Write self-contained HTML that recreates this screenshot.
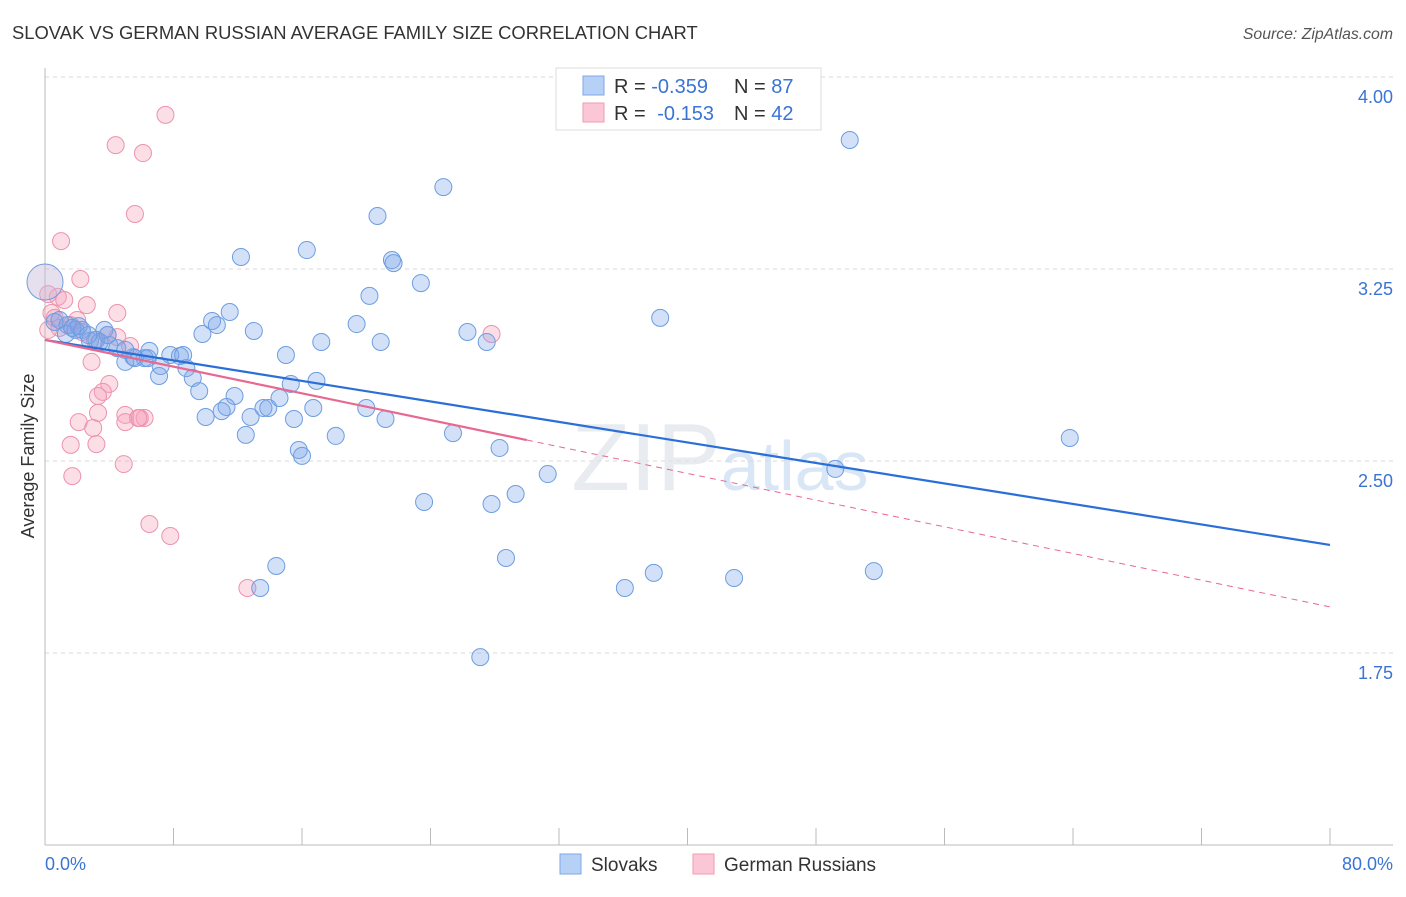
<!DOCTYPE html>
<html><head><meta charset="utf-8"><style>
body{margin:0;background:#fff;font-family:"Liberation Sans",sans-serif;}
svg text{font-family:"Liberation Sans",sans-serif;}
</style></head><body>
<svg id="chart" width="1406" height="892" viewBox="0 0 1406 892" xmlns="http://www.w3.org/2000/svg">
<text x="12" y="39" font-size="18.4" fill="#333">SLOVAK VS GERMAN RUSSIAN AVERAGE FAMILY SIZE CORRELATION CHART</text>
<text x="1393" y="39" font-size="15.8" fill="#555" font-style="italic" text-anchor="end">Source: ZipAtlas.com</text>
<g id="grid"></g>
<g id="axes"></g>
<text x="720" y="490" font-size="96" fill="#dfe3ea" text-anchor="middle" font-family="Liberation Serif, serif" opacity="0.7">ZIP<tspan fill="#c9dcf2" font-family="Liberation Sans, sans-serif" font-size="70">atlas</tspan></text>
<g id="pts"></g>
<g id="lines"></g>
<text transform="translate(34,456) rotate(-90)" font-size="18" fill="#333" text-anchor="middle">Average Family Size</text>
<g>
<rect x="556" y="68" width="265" height="62" fill="#fff" stroke="#ddd"/>
<rect x="583" y="76" width="21" height="19" fill="#b7d0f5" stroke="#7ea7e6"/>
<rect x="583" y="103" width="21" height="19" fill="#fbc7d6" stroke="#ef9bb5"/>
<text x="614" y="93" font-size="20" fill="#333">R = <tspan fill="#3a74d4">-0.359</tspan><tspan x="734">N = </tspan><tspan fill="#3a74d4">87</tspan></text>
<text x="614" y="120" font-size="20" fill="#333">R = <tspan fill="#3a74d4" dx="6">-0.153</tspan><tspan x="734">N = </tspan><tspan fill="#3a74d4">42</tspan></text>
</g>
<g>
<rect x="560" y="854" width="21" height="20" fill="#b7d0f5" stroke="#7ea7e6"/>
<text x="591" y="871" font-size="19" fill="#333">Slovaks</text>
<rect x="693" y="854" width="21" height="20" fill="#fbc7d6" stroke="#ef9bb5"/>
<text x="724" y="871" font-size="19" fill="#333">German Russians</text>
</g>
</svg>
<script>
const yTicks=[4.00,3.25,2.50,1.75];
const yTickLabels=["4.00","3.25","2.50","1.75"];
const xTicks=[0,8,16,24,32,40,48,56,64,72,80];
const slovakX=[50.1,24.8,20.7,16.3,12.2,21.6,21.7,23.4,20.2,11.5,10.4,10.7,19.4,13.0,9.8,26.3,17.2,20.9,27.5,38.3,15.0,6.5,7.8,8.4,8.6,6.2,5.0,5.5,7.2,8.8,7.1,9.2,15.3,16.9,9.6,11.8,11.3,11.0,13.6,13.9,14.6,16.7,20.0,10.0,12.8,15.5,21.2,12.5,18.1,25.4,63.8,15.8,16.0,28.3,31.3,49.2,23.6,29.3,27.8,14.4,28.7,13.4,36.1,37.9,42.9,51.6,27.1,0.6,0.9,1.4,1.9,2.3,2.8,3.2,3.7,4.0,4.5,3.4,5.6,6.4,1.3,1.7,2.7,3.9,5.0,2.1,0];
const slovakY=[3.754,3.57,3.457,3.324,3.297,3.285,3.273,3.195,3.145,3.082,3.047,3.031,3.035,3.008,2.996,3.004,2.965,2.965,2.965,3.059,2.914,2.930,2.914,2.910,2.914,2.902,2.887,2.906,2.871,2.863,2.832,2.824,2.801,2.813,2.773,2.754,2.711,2.695,2.707,2.707,2.746,2.707,2.707,2.672,2.672,2.664,2.664,2.602,2.598,2.609,2.590,2.543,2.520,2.551,2.449,2.469,2.340,2.371,2.332,2.090,2.121,2.004,2.004,2.063,2.043,2.070,1.734,3.043,3.051,3.031,3.012,3.012,2.969,2.973,3.012,2.953,2.941,2.965,2.902,2.902,2.996,3.020,2.992,2.992,2.934,3.027,3.199];
const germanX=[7.5,4.4,6.1,5.6,1.0,2.2,0.8,0.2,1.2,2.6,0.4,4.5,2.0,0.9,1.6,3.9,4.5,5.3,2.9,4.0,3.6,3.3,3.3,2.1,3.0,5.0,5.0,6.2,5.9,1.6,3.2,4.9,1.7,6.5,7.8,12.6,27.8,0.2,0.6,2.3,3.1,5.8];
const germanY=[3.852,3.734,3.703,3.465,3.359,3.211,3.141,3.152,3.129,3.109,3.078,3.078,3.051,3.020,3.031,2.992,2.984,2.949,2.887,2.801,2.770,2.754,2.688,2.652,2.629,2.680,2.652,2.668,2.668,2.563,2.566,2.488,2.441,2.254,2.207,2.004,2.996,3.012,3.059,3.004,2.973,2.668];
const slovakTrend=[2.973,2.172];
const germanTrend=[2.973,1.930];
const germanSolidEnd=30;

const NS="http://www.w3.org/2000/svg";
const X0=45,X1=1330,Y4=77,PXU=256;
function sx(v){return X0+(v/80)*(X1-X0);}
function sy(v){return Y4+(4-v)*PXU;}
function mk(tag,attrs,parent){const e=document.createElementNS(NS,tag);for(const k in attrs)e.setAttribute(k,attrs[k]);parent.appendChild(e);return e;}
const grid=document.getElementById('grid'),axes=document.getElementById('axes'),pts=document.getElementById('pts'),lines=document.getElementById('lines');
yTicks.forEach((t,i)=>{
  const l=mk('line',{x1:X0,x2:1393,y1:sy(t),y2:sy(t),stroke:'#d8d8d8','stroke-dasharray':'4,4'},grid);
  
  
  const tx=mk('text',{x:1393,y:sy(t)+26,'font-size':18,fill:'#3a74d4','text-anchor':'end'},axes);
  tx.textContent=yTickLabels[i];
  
  
});
const ya=mk('line',{x1:X0,x2:X0,y1:68,y2:845,stroke:'#bbb'},axes);


const xa=mk('line',{x1:X0,x2:1393,y1:845,y2:845,stroke:'#bbb'},axes);


xTicks.forEach(t=>{
  const l=mk('line',{x1:sx(t),x2:sx(t),y1:828,y2:845,stroke:'#bbb'},axes);
  
  
});
const xl0=mk('text',{x:45,y:870,'font-size':18,fill:'#3a74d4'},axes);xl0.textContent='0.0%';


const xl1=mk('text',{x:1393,y:870,'font-size':18,fill:'#3a74d4','text-anchor':'end'},axes);xl1.textContent='80.0%';


germanX.forEach((x,i)=>{
  const c=mk('circle',{cx:sx(x),cy:sy(germanY[i]),r:8.5,fill:'rgba(245,160,185,0.35)',stroke:'#ec93ae','stroke-width':1},pts);
  
  
});
slovakX.forEach((x,i)=>{
  const big=(i===slovakX.length-1);
  const c=mk('circle',{cx:sx(x),cy:sy(slovakY[i]),r:big?18:8.5,fill:big?'rgba(200,185,215,0.45)':'rgba(120,165,235,0.33)',stroke:'#6d9de0','stroke-width':1},pts);
  
  
});
const bl=mk('line',{x1:sx(0),y1:sy(slovakTrend[0]),x2:sx(80),y2:sy(slovakTrend[1]),stroke:'#2a6fd8','stroke-width':2.2},lines);


const gAt=x=>germanTrend[0]+(germanTrend[1]-germanTrend[0])*x/80;
const gl=mk('line',{x1:sx(0),y1:sy(gAt(0)),x2:sx(germanSolidEnd),y2:sy(gAt(germanSolidEnd)),stroke:'#e8688f','stroke-width':2.2},lines);


const gd=mk('line',{x1:sx(germanSolidEnd),y1:sy(gAt(germanSolidEnd)),x2:sx(80),y2:sy(gAt(80)),stroke:'#e8688f','stroke-width':1,'stroke-dasharray':'6,5'},lines);


</script>
</body></html>
